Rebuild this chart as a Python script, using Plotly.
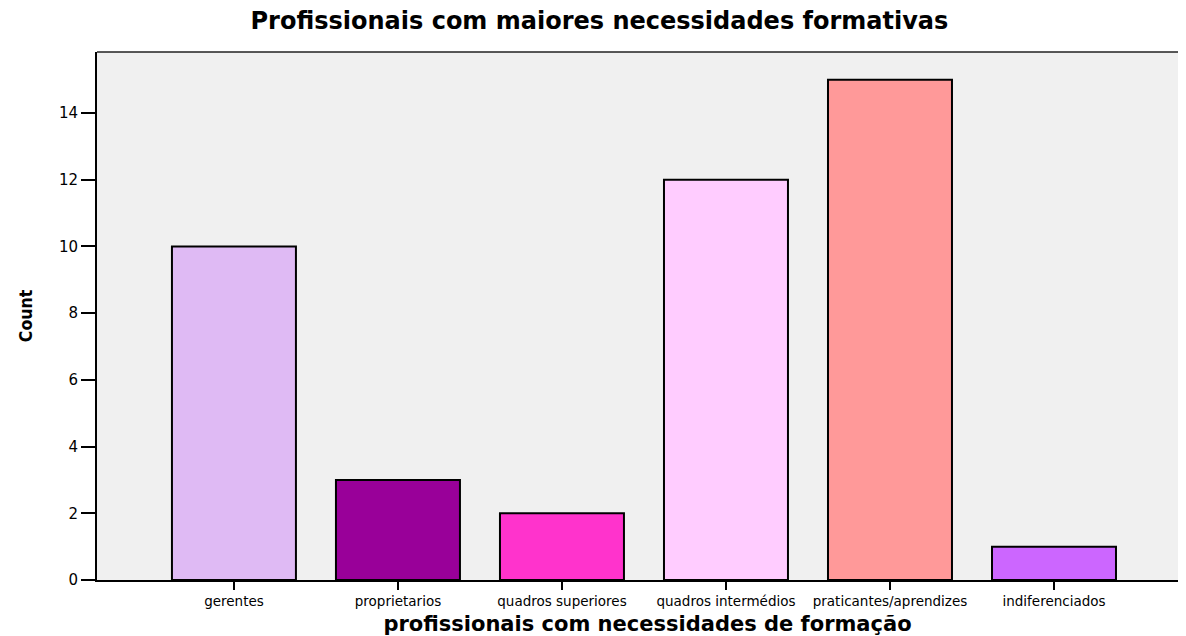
import plotly.graph_objects as go

categories = ["gerentes", "proprietarios", "quadros superiores", "quadros intermédios",
              "praticantes/aprendizes", "indiferenciados"]
counts = [10, 3, 2, 12, 15, 1]
colors = ["#dfbaf4", "#990099", "#ff33cc", "#ffccff", "#ff9999", "#cc66ff"]
y_ticks = [0, 2, 4, 6, 8, 10, 12, 14]

WIDE = "DejaVu Sans, Liberation Sans, Arial"

fig = go.Figure(go.Bar(
    x=categories, y=counts,
    marker=dict(color=colors, line=dict(color="black", width=2)),
    hoverinfo="x+y",
))

# page body has an 8px margin, so the figure origin sits at (8, 8) in the window
fig.update_layout(
    width=1190, height=628,
    margin=dict(l=89, r=0, t=44, b=56),
    paper_bgcolor="white", plot_bgcolor="#f0f0f0",
    bargap=0.244,
    showlegend=False,
    title=dict(text="<b>Profissionais com maiores necessidades formativas</b>",
               x=0.497, xanchor="center", y=1 - 13 / 628, yanchor="middle",
               font=dict(family=WIDE, size=24, color="black")),
    font=dict(family=WIDE, color="black"),
)

fig.update_xaxes(
    range=[-0.835, 5.878], showgrid=False, zeroline=False,
    showline=True, linecolor="black", linewidth=2,
    ticks="outside", ticklen=8, tickwidth=2, tickcolor="black",
    tickfont=dict(size=13.5, family=WIDE),
    title=dict(text="<b>profissionais com necessidades de formação</b>",
               font=dict(size=21, family=WIDE), standoff=8),
)
fig.update_yaxes(
    range=[0, 15.83], tickvals=y_ticks, showgrid=False, zeroline=False,
    showline=True, linecolor="black", linewidth=2,
    ticks="outside", ticklen=14, tickwidth=2, tickcolor="black",
    tickfont=dict(size=15, family=WIDE),
    title=dict(text="<b>Count</b>",
               font=dict(size=17.5, family="DejaVu Sans Condensed, Liberation Sans Narrow, Arial Narrow"),
               standoff=22),
)

fig.add_shape(type="line", xref="paper", yref="paper", x0=0, x1=1, y0=1, y1=1,
              line=dict(color="#222222", width=1.5))

fig.write_html("out.html")
